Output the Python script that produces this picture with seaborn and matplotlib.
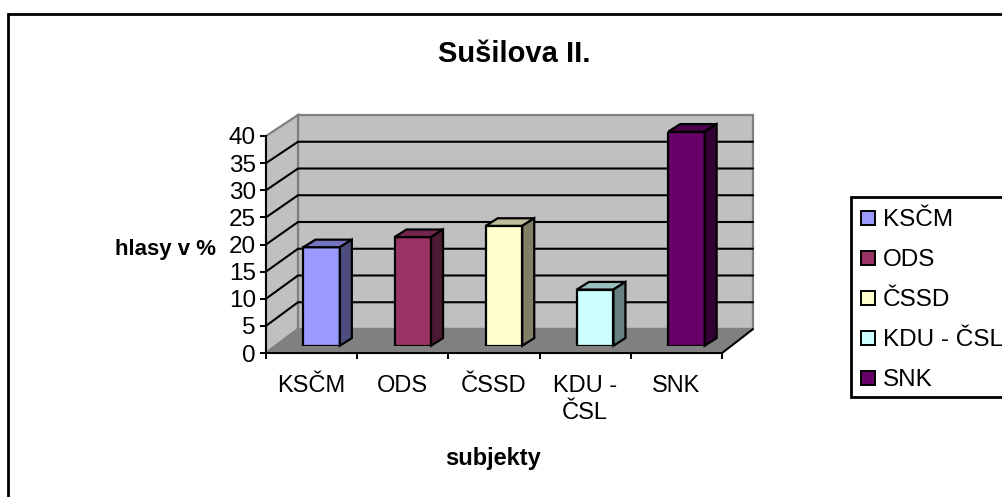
import matplotlib
matplotlib.use("Agg")
import matplotlib.pyplot as plt
from matplotlib.patches import Polygon, Rectangle
import numpy as np
import pandas as pd
import seaborn as sns

categories = ["KSČM", "ODS", "ČSSD", "KDU - ČSL", "SNK"]
tick_labels = ["KSČM", "ODS", "ČSSD", "KDU -\nČSL", "SNK"]
values = [18.4, 20.3, 22.4, 10.5, 40.0]
colors = ["#9999FF", "#993366", "#FFFFCC", "#CCFFFF", "#660066"]
y_ticks = [0, 5, 10, 15, 20, 25, 30, 35, 40]
title = "Sušilova II."
x_title = "subjekty"
y_title = "hlasy v %"

W, H = 1003, 497
sns.set_theme(style="white")
plt.rcParams["font.family"] = ["Liberation Sans", "DejaVu Sans"]
plt.rcParams["text.color"] = "black"
plt.rcParams["xtick.labelcolor"] = "black"
plt.rcParams["ytick.labelcolor"] = "black"
fig = plt.figure(figsize=(W / 100, H / 100), dpi=100, facecolor="white")


def axes_px(x0, y_top, x1, y_bot, **kw):
    return fig.add_axes([x0 / W, 1 - y_bot / H, (x1 - x0) / W, (y_bot - y_top) / H], **kw)


# full-figure pixel canvas for the walls
cv = axes_px(0, 0, W, H)
cv.set_xlim(0, W)
cv.set_ylim(H, 0)
cv.axis("off")

FL, FR, FT, FB = 266, 722, 136, 353      # front plane
BL, BR, BT, BB = 298, 753, 115, 329      # back wall
grey, dgrey = "#C0C0C0", "#808080"
cv.add_patch(Polygon([(BL, BT), (BR, BT), (BR, BB), (BL, BB)], fc=grey, ec=dgrey, lw=1.6))
cv.add_patch(Polygon([(FL, FT), (BL, BT), (BL, BB), (FL, FB)], fc=grey, ec=dgrey, lw=1.6))
cv.add_patch(Polygon([(FL, FB), (BL, BB), (BR, BB), (FR, FB)], fc=dgrey, ec=dgrey, lw=1.6))
for v in y_ticks[1:-1]:
    f = v / 40
    yb = BB - f * (BB - BT)
    yf = FB - f * (FB - FT)
    cv.plot([FL, BL, BR], [yf, yb, yb], color="black", lw=1.5, solid_joinstyle="miter")
cv.plot([FR, BR], [FB, BB], color="black", lw=1.4)

# outer frame of the chart, running off the right and bottom edges
cv.plot([8.5, 8.5, W + 5], [H + 5, 14, 14], color="black", lw=2, solid_joinstyle="miter")

# front axes: ticks and labels
ax = axes_px(FL, FT, FR, FB)
ax.patch.set_alpha(0)
ax.set_xlim(-0.5, 4.5)
ax.set_ylim(0, 40)
for s in ("top", "right"):
    ax.spines[s].set_visible(False)
for s in ("left", "bottom"):
    ax.spines[s].set_color("black")
    ax.spines[s].set_linewidth(1.4)
ax.set_yticks(y_ticks)
ax.tick_params(axis="y", length=4.3, width=1.4, color="black", labelsize=17.5, pad=3, left=True)
ax.set_xticks(np.arange(-0.5, 5, 1))
ax.set_xticklabels([])
ax.tick_params(axis="x", length=4.3, width=1.4, color="black", bottom=True)
ax.set_xticks(np.arange(5), labels=tick_labels, minor=True)
ax.tick_params(axis="x", which="minor", length=0, labelsize=17, pad=16)
for t in ax.get_xticklabels(minor=True):
    t.set_linespacing(1.28)

# bars, in the plane a third of the way into the box
BAR_L, BAR_R, BAR_T, BAR_B = 276, 732, 131.7, 345.7
bx = axes_px(BAR_L, BAR_T, BAR_R, BAR_B)
bx.patch.set_alpha(0)
df = pd.DataFrame({"subjekt": categories, "hlasy": values})
sns.barplot(data=df, x="subjekt", y="hlasy", hue="subjekt", palette=colors, dodge=False,
            legend=False, width=0.4, saturation=1, edgecolor="black", linewidth=1.6, ax=bx)
bx.set_xlim(-0.5, 4.5)
bx.set_ylim(0, 40)
bx.axis("off")
dx = 12 * 5 / (BAR_R - BAR_L)
dy = 7.6 * 40 / (BAR_B - BAR_T)
for p, c in zip(bx.patches, colors):
    x0, w, h = p.get_x(), p.get_width(), p.get_height()
    rgb = np.array(matplotlib.colors.to_rgb(c))
    bx.add_patch(Polygon([(x0, h), (x0 + dx, h + dy), (x0 + w + dx, h + dy), (x0 + w, h)],
                         fc=rgb * 0.75, ec="black", lw=1.6, clip_on=False, joinstyle="miter"))
    bx.add_patch(Polygon([(x0 + w, 0), (x0 + w + dx, dy), (x0 + w + dx, h + dy), (x0 + w, h)],
                         fc=rgb * 0.5, ec="black", lw=1.6, clip_on=False, joinstyle="miter"))

# texts
fig.text(514 / W, 1 - 54 / H, title, ha="center", va="center", fontsize=21, fontweight="bold")
fig.text(493 / W, 1 - 458 / H, x_title, ha="center", va="center", fontsize=17, fontweight="bold")
fig.text(166 / W, 1 - 249 / H, y_title, ha="center", va="center", fontsize=16, fontweight="bold")

# legend
lg = axes_px(0, 0, W, H)
lg.set_xlim(0, W)
lg.set_ylim(H, 0)
lg.axis("off")
lg.plot([W + 5, 851, 851, W + 5], [197, 197, 397, 397], color="black", lw=2, solid_joinstyle="miter")
for i, (name, c) in enumerate(zip(categories, colors)):
    yc = 217.5 + i * 40
    lg.add_patch(Rectangle((861, yc - 7), 14, 14, fc=c, ec="black", lw=1.4))
    lg.text(883, yc + 2.5, name, ha="left", va="center", fontsize=17.5)

fig.savefig("out.png", dpi=100)
